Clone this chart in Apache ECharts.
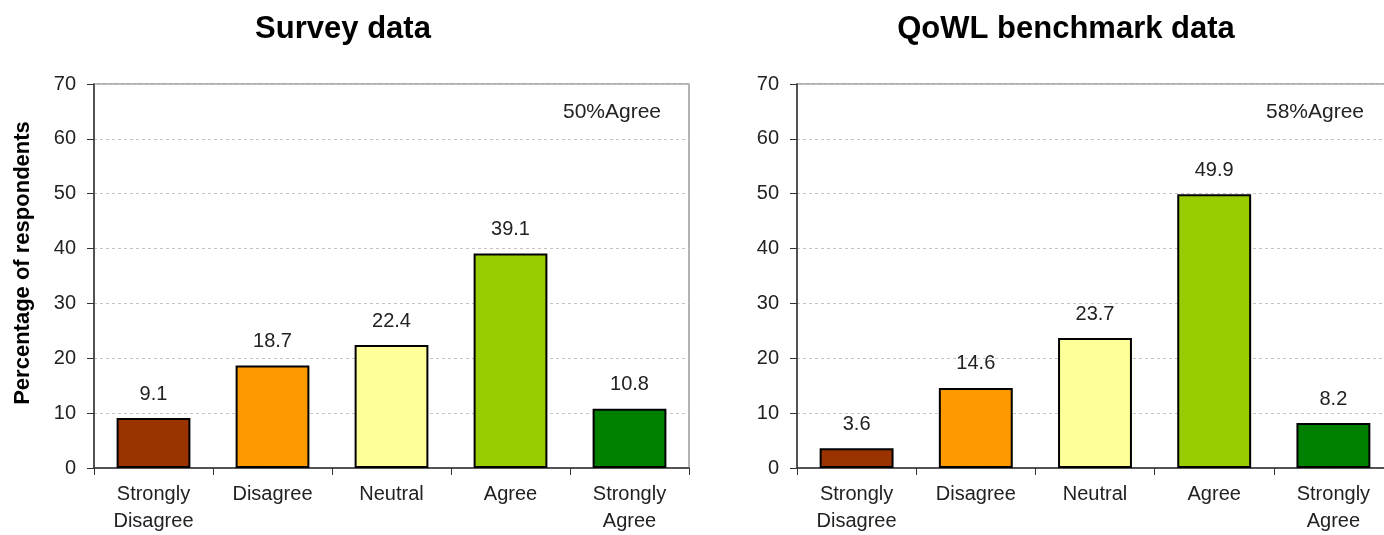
<!DOCTYPE html>
<html>
<head>
<meta charset="utf-8">
<script src="https://cdn.jsdelivr.net/npm/echarts@6/dist/echarts.min.js"></script>
<style>
  html, body { margin: 0; padding: 0; background: #fff; }
  /* the canvas runs past the right edge; the frame clips it so the second panel is cut off */
  #frame { position: relative; width: 1384px; height: 535px; overflow: hidden; }
  #chart { position: absolute; left: 0; top: 0; width: 1410px; height: 535px; }
</style>
</head>
<body>
<div id="frame"><div id="chart"></div></div>
<script>
// Response categories shared by both panels
const categories = ['Strongly\nDisagree', 'Disagree', 'Neutral', 'Agree', 'Strongly\nAgree'];
// Percentage of respondents per category
const surveyValues = [9.1, 18.7, 22.4, 39.1, 10.8];
const benchmarkValues = [3.6, 14.6, 23.7, 49.9, 8.2];
const barColors = ['#993300', '#FF9900', '#FFFF99', '#99CC00', '#008000'];
const panelTitles = ['Survey data', 'QoWL benchmark data'];
const agreeNotes = ['50%Agree', '58%Agree'];
const yAxisName = 'Percentage of respondents';
const yMax = 70;
const yStep = 10;

const FONT = '"Liberation Sans", Arial, sans-serif';
const chart = echarts.init(document.getElementById('chart'), null, { renderer: 'canvas' });

const grids = [
  { left: 94, top: 84, width: 595, height: 391 },
  { left: 797, top: 84, width: 596, height: 391 }
];

function xAxisFor(i) {
  return {
    gridIndex: i,
    type: 'category',
    data: categories,
    axisLine: { lineStyle: { color: '#333', width: 1.5 } },
    axisTick: { show: true, length: 7, lineStyle: { color: '#333' } },
    axisLabel: { color: '#222', fontFamily: FONT, fontSize: 20, lineHeight: 27, margin: 13, interval: 0 }
  };
}

function yAxisFor(i) {
  return {
    gridIndex: i,
    type: 'value',
    min: 0,
    max: yMax,
    interval: yStep,
    axisLine: { show: true, lineStyle: { color: '#333', width: 1.5 } },
    axisTick: { show: true, length: 7, lineStyle: { color: '#333' } },
    axisLabel: { color: '#222', fontFamily: FONT, fontSize: 20, margin: 18 },
    splitLine: { show: true, lineStyle: { color: '#c4c4c4', type: [3, 3], width: 1 } }
  };
}

function seriesFor(i, values) {
  return {
    type: 'bar',
    xAxisIndex: i,
    yAxisIndex: i,
    barWidth: '62%',
    data: values.map((v, k) => ({
      value: v,
      itemStyle: { color: barColors[k], borderColor: '#000', borderWidth: 2 }
    })),
    label: {
      show: true,
      position: 'top',
      distance: 14,
      color: '#222',
      fontFamily: FONT,
      fontSize: 20,
      formatter: p => p.value.toFixed(1)
    }
  };
}

// Panel headings, "% agree" notes and the vertical axis caption
const titleCenters = [343, 1066];
const noteCenters = [612, 1315];
const texts = [];
panelTitles.forEach((t, i) => {
  texts.push({
    type: 'text', x: titleCenters[i], y: 29,
    style: { text: t, fill: '#000', font: 'bold 31px ' + FONT, textAlign: 'center', textVerticalAlign: 'middle' }
  });
});
agreeNotes.forEach((t, i) => {
  texts.push({
    type: 'text', x: noteCenters[i], y: 112,
    style: { text: t, fill: '#222', font: '21px ' + FONT, textAlign: 'center', textVerticalAlign: 'middle' }
  });
});
texts.push({
  type: 'text', x: 23, y: 263, rotation: Math.PI / 2,
  style: { text: yAxisName, fill: '#000', font: 'bold 22px ' + FONT, textAlign: 'center', textVerticalAlign: 'middle' }
});

chart.setOption({
  animation: false,
  backgroundColor: '#fff',
  graphic: texts,
  grid: grids.map(g => Object.assign({ show: true, borderColor: '#999', borderWidth: 1.5, backgroundColor: 'transparent' }, g)),
  xAxis: [xAxisFor(0), xAxisFor(1)],
  yAxis: [yAxisFor(0), yAxisFor(1)],
  series: [seriesFor(0, surveyValues), seriesFor(1, benchmarkValues)]
});
</script>
</body>
</html>
